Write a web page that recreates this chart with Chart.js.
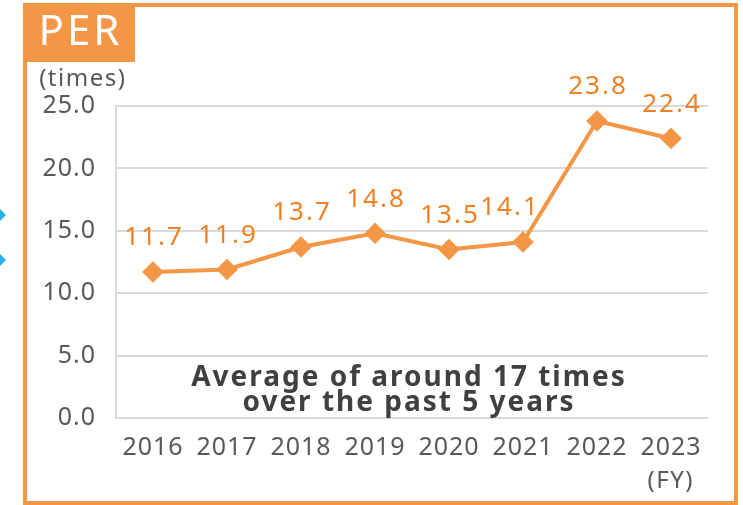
<!DOCTYPE html>
<html>
<head>
<meta charset="utf-8">
<script src="https://cdn.jsdelivr.net/npm/chart.js@4/dist/chart.umd.min.js"></script>
<style>
  html, body { margin: 0; padding: 0; background: #ffffff; }
  #wrap { width: 743px; height: 505px; position: relative; }
</style>
</head>
<body>
<div id="wrap"><canvas id="c" width="743" height="505"></canvas></div>
<script>
const categories = ['2016', '2017', '2018', '2019', '2020', '2021', '2022', '2023'];
const perValues = [11.7, 11.9, 13.7, 14.8, 13.5, 14.1, 23.8, 22.4];
const yTickValues = [0, 5, 10, 15, 20, 25];
const titleText = 'PER';
const yUnitText = '(times)';
const xUnitText = '(FY)';
const noteLines = ['Average of around 17 times', 'over the past 5 years'];

const ORANGE = '#F39645';
const LABEL_ORANGE = '#EF8024';
const GRAY_TEXT = '#595959';
const GRID = '#d9d9d9';
const FONT = '"Noto Sans", "Open Sans", sans-serif';

// horizontal nudge for value labels that would otherwise touch the line
const labelNudgeX = [0, 0, 0, 0, 0, -14, 0, 0];

function spacedText(ctx, text, x, y, spacing) {
  ctx.letterSpacing = spacing + 'px';
  ctx.fillText(text, x + spacing / 2, y);
}

const decorPlugin = {
  id: 'decor',
  beforeLayout(chart) {
    chart.ctx.letterSpacing = '1px';
  },
  beforeDraw(chart) {
    const ctx = chart.ctx;
    ctx.letterSpacing = '1px';
    ctx.save();
    ctx.fillStyle = '#ffffff';
    ctx.fillRect(0, 0, chart.width, chart.height);
    // outer frame
    ctx.strokeStyle = ORANGE;
    ctx.lineWidth = 4;
    ctx.strokeRect(25, 5, 711, 498);
    // title box
    ctx.fillStyle = ORANGE;
    ctx.fillRect(23, 3, 112, 59);
    ctx.fillStyle = '#ffffff';
    ctx.font = '42px ' + FONT;
    ctx.textAlign = 'center';
    ctx.textBaseline = 'middle';
    spacedText(ctx, titleText, 79, 33, 3);
    // left blue markers
    ctx.fillStyle = '#2AB3E6';
    [215, 260].forEach(y => {
      ctx.beginPath();
      ctx.moveTo(0, y - 6);
      ctx.lineTo(6, y);
      ctx.lineTo(0, y + 6);
      ctx.closePath();
      ctx.fill();
    });
    ctx.restore();
  },
  afterDraw(chart) {
    const ctx = chart.ctx;
    ctx.save();
    ctx.fillStyle = GRAY_TEXT;
    ctx.font = '24px ' + FONT;
    ctx.textAlign = 'center';
    ctx.textBaseline = 'middle';
    spacedText(ctx, yUnitText, 82, 79, 1.5);
    spacedText(ctx, xUnitText, 670, 481, 1.5);
    // note
    ctx.fillStyle = '#404040';
    ctx.font = 'bold 28px ' + FONT;
    const cx = 408;
    spacedText(ctx, noteLines[0], cx, 378, 2);
    spacedText(ctx, noteLines[1], cx, 403, 2);
    // value labels
    const meta = chart.getDatasetMeta(0);
    ctx.fillStyle = LABEL_ORANGE;
    ctx.font = '26px ' + FONT;
    meta.data.forEach((pt, i) => {
      const v = chart.data.datasets[0].data[i];
      spacedText(ctx, v.toFixed(1), pt.x + labelNudgeX[i], pt.y - 34, 2);
    });
    ctx.restore();
  }
};

new Chart(document.getElementById('c'), {
  type: 'line',
  data: {
    labels: categories,
    datasets: [{
      data: perValues,
      borderColor: ORANGE,
      backgroundColor: ORANGE,
      borderWidth: 4,
      pointStyle: 'rectRot',
      pointRadius: 8,
      pointHoverRadius: 8,
      pointBackgroundColor: ORANGE,
      pointBorderColor: ORANGE,
      tension: 0,
      fill: false
    }]
  },
  options: {
    responsive: false,
    animation: false,
    events: [],
    layout: { padding: { left: 0, top: 106, right: 35, bottom: 0 } },
    plugins: { legend: { display: false }, tooltip: { enabled: false }, title: { display: false } },
    scales: {
      x: {
        offset: true,
        grid: { display: false, drawTicks: false },
        border: { display: false },
        ticks: { color: GRAY_TEXT, font: { family: FONT, size: 25 }, padding: 15, maxRotation: 0, autoSkip: false },
        afterFit(scale) { scale.height = 87; }
      },
      y: {
        min: 0,
        max: 25,
        afterBuildTicks(scale) { scale.ticks = yTickValues.map(v => ({ value: v })); },
        grid: { color: GRID, lineWidth: 2, drawTicks: false },
        border: { display: true, color: GRID, width: 2 },
        ticks: {
          color: GRAY_TEXT,
          font: { family: FONT, size: 25 },
          padding: 20,
          callback: v => Number(v).toFixed(1)
        },
        afterFit(scale) { scale.width = 116; }
      }
    }
  },
  plugins: [decorPlugin]
});
</script>
</body>
</html>
